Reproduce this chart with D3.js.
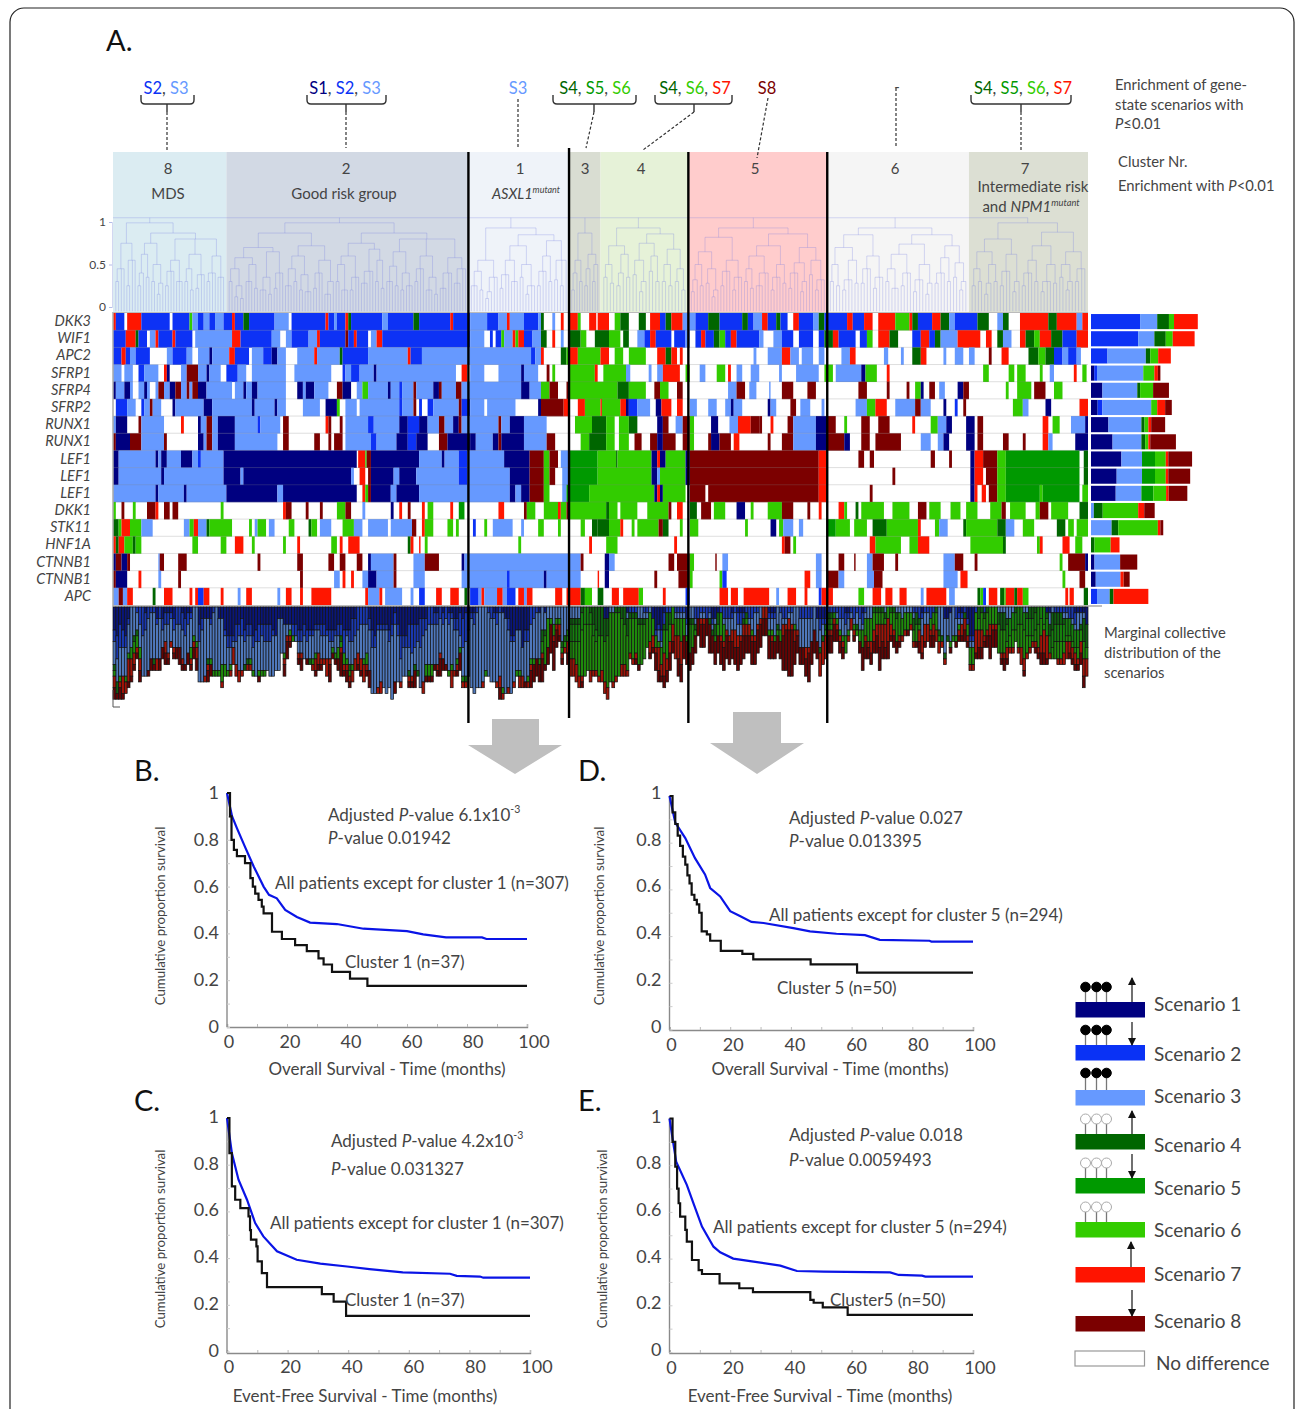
<!DOCTYPE html>
<html>
<head>
<meta charset="utf-8">
<script src="https://cdn.jsdelivr.net/npm/d3@7"></script>
<style>
  html, body { margin: 0; padding: 0; background: #fff; }
  svg { display: block; }
  text { font-family: Lato, "Open Sans", sans-serif; fill: #444; }
</style>
</head>
<body>
<svg id="chart" width="1295" height="1409"></svg>
<script>
// ---- data ----
const scenarioNames = ["Scenario 1", "Scenario 2", "Scenario 3", "Scenario 4", "Scenario 5", "Scenario 6", "Scenario 7", "Scenario 8"]
const scenarioColors = ["#000080", "#0a32f5", "#6699ff", "#006600", "#009900", "#33cc00", "#ff1400", "#7b0000"]
const marginalColors = ["#0a1678", "#1a38b0", "#4f78bc", "#0f5f10", "#16800f", "#1f8a0c", "#a01408", "#620404"]

const genes = ["DKK3", "WIF1", "APC2", "SFRP1", "SFRP4", "SFRP2", "RUNX1", "RUNX1", "LEF1", "LEF1", "LEF1", "DKK1", "STK11", "HNF1A", "CTNNB1", "CTNNB1", "APC"]

// cluster order left to right, and the patient index where each one ends
const clusterNames = ["8", "2", "1", "3", "4", "5", "6", "7"]
const clusterEnds = [40, 125.4, 160.9, 172, 203, 252, 302, 344]
const clusterFills = ["#dbecf2", "#d2d9e4", "#eff3f9", "#d9ddd2", "#e6f2d8", "#ffcccc", "#f5f5f5", "#dcdfd3"]
const blackLineAfter = [1, 2, 4, 5]

// one string per gene row: scenario:endPatient runs, 0 = no difference
const heatRuns = [
  "7:1 2:4 0:5 7:10 2:20 0:21 2:27 6:28 3:30 2:32 3:34 2:36 3:39 2:42 7:43 2:46 4:48 2:57 3:62 0:63 2:75 7:76 2:78 3:79 2:82 7:83 4:84 2:95 3:97 2:106 4:108 2:119 7:120 2:126 3:132 2:136 3:139 7:140 3:145 2:150 3:151 4:152 0:155 3:156 0:158 7:159 0:161 7:164 6:165 0:168 7:170.5 0:171 7:175 0:177 6:179 4:182 0:185.5 4:188 0:189.5 7:193 2:195 4:197 7:201 3:205.5 2:210 4:214 2:222 4:224 2:226 3:229 7:231 2:234 4:235.5 2:238 0:240 7:242 2:247 3:249 4:251 2:259 7:261 2:265 7:268 0:270 7:276 6:281 7:282 4:284 2:289 7:292 4:295 3:297 2:305 4:309 0:312 3:314 4:316 0:320 7:330 4:333 7:340 3:342 7:344",
  "2:4.5 7:8 4:9 2:12 0:13 3:15 7:16 2:21 7:22 2:28 0:29 3:42 7:45 2:56 3:59 0:61 3:63 2:69 3:72 7:73 2:82 8:83 2:85 7:86 2:90 0:91 3:93 7:95 2:126 3:131 0:133 2:134 0:135 2:137 6:138 3:141 7:142 6:143 7:145 2:148 3:151 4:153 0:155 7:156 0:158 3:159 0:161 4:165 6:167 0:170 4:175 6:179 0:180 4:182 0:185 3:187.5 2:189.5 7:191.5 2:197 0:198 2:202 3:203.5 0:205.5 2:207.5 7:209 2:212 4:214 6:216 2:218 7:220 2:228 3:229.5 0:233 3:236 2:240 0:242 2:247 0:249 2:251 4:254 7:256 2:262 0:263.5 2:266 6:268 0:270 7:274 4:277 0:282 2:285 7:288 2:290 4:292 3:298 7:306 0:308 7:310 0:312 4:314 3:317 0:320 7:322 4:325 6:327 7:331 4:335 2:340 7:344",
  "2:3 7:4.5 2:6 3:8 2:13 0:19 3:21 2:26 3:28 0:30 3:34 1:35 3:41 7:43 2:48 0:49 3:53 2:56 1:58 3:61 0:65 3:71 7:72 3:80 4:81 2:90 3:104 7:105 2:109 3:147.5 2:149 3:151 7:152 0:158 4:160 6:161 7:164 6:172 7:175 0:177 6:180 0:182 6:188 0:192 7:195 4:197 7:199 0:200 7:201 0:203.5 0:226 3:227 0:231 3:236 7:239 3:242 0:243 3:247 0:249 3:251 0:257 3:260 7:262 0:272 3:273.5 0:278 3:279 0:282 4:285 7:287 0:293 3:294 0:297 3:300 0:302 3:304 0:309 8:310 0:313.5 7:316 0:323 4:326.5 6:329 4:332 2:335 3:337 2:340 3:341.5 0:344",
  "3:3 0:4 3:7 0:9 2:11 3:16 0:18 7:19 1:20 0:24 3:26 8:30 3:33 1:34 3:38 0:40 2:44 3:47 0:49 3:61 0:64 3:77 0:81 2:82 3:84 2:87 3:92 1:93 3:121 0:123 7:125 0:126 3:131 0:136 3:144 1:145 3:150 0:153 8:154 0:155 6:156 0:161 6:170 7:171 0:173 6:181 3:182.5 0:189 3:190 0:192 3:194 7:200 0:202 6:203.5 0:207 3:209 0:213 6:216 0:217 7:218 0:220 3:222 0:225 3:228 0:235 3:236 0:241 3:249 0:251 6:254 0:255 3:264 1:265.5 6:269.5 0:273 7:274 0:307 6:309 0:316 6:318 0:319 6:322 0:327 6:328 0:330.5 3:332 0:339 7:340 0:342 6:343.5 0:344",
  "1:1 3:4 1:6 3:7 0:9 3:11 1:12 3:13 0:15 3:16 8:18 3:20 1:22 8:24 3:26 8:27 3:28 8:30 1:33 3:42 0:43 3:46 1:47 3:49 1:51 3:61 0:65 1:67 3:68 1:71 3:76 0:79 8:81 1:84 0:86 3:88 6:90 3:97 1:98 3:101 2:102 3:106 8:107 3:113 1:115 8:116 3:121 8:123 3:144 1:147 3:151 6:154 8:157 0:160 8:161 6:178 4:182 6:188 0:191 8:193 6:196 0:199 8:201 0:217 3:220 8:223 0:224.5 3:227 0:231.5 3:232 0:236 8:240 0:245 8:248 0:263 8:266 0:273 8:274 0:280 8:281 0:283 6:285 1:286 0:288 8:290 0:291.5 3:293.5 0:298 1:300 8:302 0:315 6:316 0:319 6:324 0:325 8:329 0:332 6:335 0:344",
  "0:1 2:5 3:8 0:10 2:11 3:13 8:14 3:17 0:21 1:22 3:32 1:35 3:49 1:50 3:57 1:58 3:61 0:67 3:73 0:75 1:79 6:80 0:82 3:86 0:87 3:101 2:102 3:106 8:107 0:108 2:109 0:111 2:113 3:122 8:123 2:126 3:131 0:132 3:142 0:150 1:151 8:159 7:161 0:164 7:166.5 6:172 7:172.5 6:179 7:181 1:182 2:185 3:189.5 0:191.5 1:193.5 7:197 0:199 7:201 0:203.5 3:206 0:210 3:213 0:216 3:218 1:219 3:222 0:231 1:232 3:234 0:239 8:241 0:242.5 3:246 0:250 3:251 0:262 3:266 6:269 7:273 0:276 3:283 8:285 3:288.5 0:293 1:294 0:297 2:298 0:300 8:301 0:317.5 6:321 3:323 0:329 1:331 0:341 7:344",
  "3:1 1:5 0:9 8:10 3:18 0:24 7:25 0:30 1:31 3:33 8:35 3:37 1:43 3:51 2:52 3:59 0:60 8:62 0:75 7:76 8:77 0:80 8:81 0:82 3:90 2:92 3:101 1:104 2:108 1:111 3:115 8:117 3:120 1:122 8:123 3:136 8:137 3:140 1:145 3:153 0:161 0:163 6:169 4:174 6:177 0:178.5 6:182 4:185 0:192 1:194 8:196 0:198.5 3:201 8:203.5 6:205 0:211 1:213.5 0:217.5 3:220.5 7:225 8:228 8:229 0:232 7:233 0:238 8:240 3:248 1:252 8:255 0:258 6:259 0:264 8:267 0:270 8:274 0:282 7:283 0:288.5 6:291 3:294 1:296 0:301 1:304 0:305 8:307 0:328 7:330 0:331.5 6:334 0:338 3:343 1:344",
  "8:1 1:6 8:10 3:18 8:19 0:30 1:32 3:33 8:35 3:37 1:43 3:58 0:60 8:62 0:71 8:73 0:76 8:77 0:78 8:81 0:82 3:91 2:93 3:100 1:104 2:107 1:111 0:115 8:118 1:126 1:128 3:134 1:136 8:137 1:145 3:153 8:156 0:161 0:165 6:168 4:174 6:177 0:178.5 6:182 0:184 8:186.5 0:189.5 8:192 1:194 8:198.5 0:201 8:203.5 6:205 0:210 8:211 1:214 8:218 0:219 7:221 0:231 8:232 0:236 8:240 3:248 1:252 8:258 1:260 0:264 8:267 0:269 8:278 0:285 3:288.5 0:291 3:293 1:295 0:301 1:304 0:305 8:307 0:314 8:316 0:321 8:322 0:328 7:330 3:331.5 0:339.5 1:344",
  "1:2 3:15 1:16 3:17 1:19 3:24 1:28 3:30 2:31 3:39 1:86 0:86.5 7:89 6:89.5 8:91 1:108 3:116 1:117 3:122 2:125 3:138 1:147 8:152 6:154 8:157 0:158 3:161 5:171 6:177.5 4:178 6:190 1:192 7:193 1:195 6:202 1:203.5 8:249 7:252 0:263 8:265 0:267 8:268.5 0:288.5 8:290 0:295 8:296 0:302.5 1:304 7:307 8:312 6:315 5:341 0:342.5 4:344",
  "1:2 3:17 1:18 3:39 1:45 3:46 1:84 3:85 0:87 7:89 0:90 8:91 1:99 3:101 1:107 3:122 2:125 3:140 1:147 8:152 6:154 8:156 0:158.5 3:161 5:171 6:190 1:192 3:193 6:202 1:203.5 8:249 7:252 0:275 8:276 0:302.5 1:304 7:307 0:308 8:312 6:315 5:341 0:342.5 4:344",
  "3:15 1:16 3:25 1:26 3:40 1:58 3:60 1:86 0:88 7:89 6:90 8:91 1:98 3:100 1:108 3:140 1:142 3:144 1:147 8:152 6:154 0:158.5 3:160 5:168 6:191 1:192 7:193 1:194 6:202 0:203.5 8:209 0:210 8:249 7:252 0:267 8:268 0:302.5 1:304 7:305 0:306.5 7:308 0:309 8:312 6:315 5:327 6:328 5:341 0:342 6:344",
  "6:1 0:3 8:4 0:7 6:8 0:12 8:15 7:16 0:18 8:20 0:21 8:23 0:38 6:39 0:60 7:61 8:63 0:68 8:69 0:73 8:74 0:79 6:82 8:84 0:88 3:89 0:98 1:99 0:101 7:102 0:104 8:105 0:109 7:110 0:111 6:113 0:119 7:120 0:122 5:124 0:136 7:138 0:145 8:146 6:149 0:152 6:157 7:158 6:160 8:161 6:174 4:175 6:178 0:179 6:185 0:188.5 6:196 8:197 0:199 7:201 0:203.5 4:206 0:207.5 8:211 0:212 6:216 0:220 1:223 0:225 6:226 0:231 6:236 8:240 0:245 8:246 0:249 7:250 0:256 7:258 6:259 0:262 4:263 0:264 6:272 0:275 6:281 0:284 8:287 0:288 6:292 0:295.5 6:299 0:301 6:305 0:309.5 6:313.5 8:315 0:316.5 6:322 0:325.5 6:327 8:330 0:331 6:337 0:341 4:344",
  "4:2 6:3 7:6 6:10 3:14 0:25 3:27 6:28.5 7:30 3:33 4:34 6:42 0:48 6:49 0:50 3:51 6:54 0:55 3:57 0:62 6:64 0:69 4:70 6:72 0:73 3:77 0:81 6:85 3:88 0:90 3:97 0:98 3:105.5 8:107 0:109 7:110 6:113 0:118 6:120 0:121 6:122 0:127 2:128 0:131 6:132 0:134 3:141 0:144 3:145 0:150 6:152 0:157 6:158 0:165 6:166.5 0:169 4:171 4:175 6:179 7:180 0:183 6:184 0:185 6:192.5 8:194 4:196 0:200 6:201 0:203.5 6:206.5 0:223 6:224 0:232 1:234 0:235 6:236.5 3:240 0:242 3:243.5 0:252 5:255 6:260 0:261.5 6:266 0:268 4:273 6:284 7:285 0:290 6:291.5 3:294.5 0:300 4:301 6:312 4:315 3:318 0:321 6:325 0:333 4:336 0:337 6:339 0:340 6:344",
  "7:1 4:2 7:4 6:7 4:8 6:10 0:28 6:30 0:38 6:40 0:43 7:46 0:49 6:50 0:60 6:61 0:65 7:66 0:77 6:79 0:80 7:81 0:83 7:87 0:104 4:105 7:106 0:108 7:108.5 0:110 6:111 0:143 6:144 0:168 7:169 0:174 6:178 0:198 7:199 0:236 7:237 8:239 0:240 6:241 0:267 7:269 6:278 0:281 6:284 7:288 0:302.5 6:314 4:315 0:326 6:327 7:328 0:335 7:337.5 0:339.5 6:342 0:344",
  "1:1 8:3 1:5 8:6 0:16 3:16.5 8:18 0:23 8:26 0:51 8:52 0:65 8:67 0:76 8:78 0:80 8:82 0:86 8:88 0:90 1:91 3:99 8:100 0:106 3:110 8:115 0:123 1:124 3:165 8:166 0:173.5 1:175 3:177 0:196 8:198 0:199 8:203.5 6:205 0:212.5 8:213 0:215 3:217 0:248 3:250 0:256 8:258 0:261.5 8:262 0:266 3:268 8:272 0:276 8:277 0:293 3:297 8:300 0:304 8:305 0:334 6:335 0:337 8:343 1:344",
  "8:1 1:5 0:9 7:10 0:16 3:17 0:23 8:24 0:66 8:67 0:78 3:80 0:81 7:82 0:84 7:85 0:88 3:90 1:93 3:99 8:100 0:106 3:110 0:123 3:139 2:140 3:152 1:153 3:165 0:171 7:171.5 0:173.5 1:175 0:191 8:192 0:199.5 8:203.5 6:204.5 0:214 6:215 2:216.5 0:244 7:246 0:248 3:250 0:252 8:256 3:258 0:266 3:268.5 8:271.5 0:293 3:298 0:299 7:301.5 0:335 6:336 0:341 8:343 0:344",
  "3:2 8:3.5 3:5 7:7 0:14 4:15 0:18 7:21 0:27 7:28 0:29 7:30 2:32 7:34 0:38 7:39 0:44 3:45 0:47 7:49 0:58 3:59 0:61 7:63 0:66 7:67 0:70 7:77 0:89 7:90 3:94 7:95 0:96 3:102 0:105 3:106 0:108 2:110 0:114 7:116 0:119 7:122 0:124 4:125 0:126 2:129 3:130 7:131 3:135.5 7:137.5 3:139 2:142 0:143 7:145 3:146 7:148 0:156 7:158.5 0:160 7:165 4:166.5 6:169 0:171 4:173 0:176 7:178.5 0:180 7:185.5 6:187 0:194 7:195 0:202 2:203.5 0:214 7:217 0:218 7:220.5 0:222.5 7:231.5 0:234 3:235 0:238 7:241 0:244 7:245 0:249 2:250 7:254 0:263 6:265 0:268 7:271 0:272.5 7:275 0:277.5 7:280 0:285 3:286 0:287 7:294 0:295 3:297 0:305 4:306 6:307 2:308 0:309 7:312 0:313 4:314.5 6:315 7:318 4:319 7:321 6:323 0:336 7:337 0:337.5 7:339 0:342.5 4:344"
]

// right-hand bars, estimated patient counts per scenario (S1..S8) for each gene row
const sideCounts = [
  [0, 155, 54, 37, 0, 16, 75, 0],
  [0, 149, 51, 36, 0, 22, 69, 0],
  [0, 52, 121, 14, 0, 25, 40, 0],
  [10, 9, 146, 0, 0, 35, 11, 8],
  [36, 0, 110, 9, 0, 41, 0, 50],
  [21, 15, 154, 0, 0, 19, 25, 21],
  [55, 0, 104, 10, 0, 12, 9, 44],
  [68, 0, 91, 12, 0, 10, 6, 81],
  [96, 0, 65, 0, 41, 34, 8, 75],
  [81, 0, 80, 0, 41, 34, 8, 69],
  [78, 0, 81, 0, 38, 40, 8, 59],
  [0, 0, 9, 28, 0, 112, 19, 33],
  [0, 0, 65, 21, 0, 125, 8, 9],
  [0, 0, 0, 11, 0, 51, 28, 0],
  [11, 0, 81, 0, 0, 0, 0, 54],
  [15, 0, 78, 0, 0, 0, 10, 19],
  [0, 19, 40, 12, 0, 0, 110, 0]
]

// dendrogram per cluster: [mergeHeight, ...children], a bare number = that many leaves
const tree8 = [.99, [.75, [.45, [.3, 2], 2], [.55, [.25, 2], 2]], [.87, [.75, [.62, [.4, [.25, 2], 1], [.35, 2]], [.5, [.3, 2], [.28, [.15, 2], 1]]], [.8, [.55, [.42, [.25, 2], 2], [.3, 3]], [.62, [.45, [.3, 2], [.2, 2]], [.38, [.22, 2], 2]], [.6, [.4, [.3, 2], 2], [.35, 3]]]]]
const tree2 = [.99, [.87, [.7, [.58, [.45, [.3, 2], [.25, [.12, 2], [.1, 2]]], [.5, [.3, 3], [.22, 2]]], [.65, [.35, [.2, 3], [.15, 2]], [.4, [.22, 2], 2]]], [.72, [.6, [.45, [.25, 3], [.3, 2]], [.38, [.2, 2], [.18, 3]]], [.55, [.4, [.22, 2], 2], [.3, [.15, 3], 1]]]], [.87, [.75, [.6, [.5, [.3, 2], [.2, 3]], [.35, [.2, 2], 2]], [.68, [.42, [.28, 3], 2], [.55, [.3, 2], [.22, 2]]]], [.8, [.65, [.48, [.3, 3], [.25, 2]], [.4, [.2, 2], [.25, 3]]], [.6, [.45, [.3, 2], 2], [.35, [.2, 3], [.15, 2]]], [.58, [.4, [.22, 3], 2], [.45, [.28, 3], 2]]]]]
const tree1 = [.93, [.55, [.42, [.25, 3], [.2, 2]], [.35, [.18, [.1, 2], 1], 2]], [.85, [.72, [.55, [.38, [.22, 2], 2], [.3, 3]], [.5, [.35, 2], [.25, [.15, 2], 2]]], [.78, [.6, [.42, [.25, 2], 2], [.3, 2]], [.55, [.32, 2], [.25, 2], 1]]]]
const tree3 = [.87, [.55, [.4, [.2, 2], 1], [.3, 2]], [.62, [.45, [.25, 2], 1], [.5, [.3, 2], 1]]]
const tree4 = [.93, [.72, [.5, [.35, 2], [.28, 2]], [.62, [.4, [.25, 2], 1], [.35, 2]]], [.86, [.75, [.55, [.38, 2], [.3, [.18, 2], 1]], [.6, [.42, 2], [.3, 2]]], [.68, [.5, [.3, 2], [.25, 2]], [.45, [.3, 2], [.2, 2]]]]]
const tree5 = [.93, [.82, [.65, [.5, [.32, [.18, 2], 1], [.25, 2]], [.45, [.28, 2], [.2, [.12, 2], 1]]], [.55, [.42, [.25, 2], 2], [.35, [.2, 2], 2]]], [.86, [.72, [.6, [.45, [.3, 2], [.22, 2]], [.4, [.25, 3], 2]], [.5, [.35, [.2, 2], 2], [.28, 2]]], [.7, [.52, [.4, [.22, 2], 2], [.3, [.18, 2], 1]], [.55, [.38, 2], [.32, [.2, 2], 2]]]]]
const tree6 = [.93, [.85, [.7, [.5, [.3, 2], [.25, 2]], [.55, [.32, [.2, 2], 2], [.28, 2]]], [.6, [.45, [.28, 2], 2], [.35, [.22, 2], 2]]], [.85, [.74, [.62, [.45, [.3, 2], [.22, 3]], [.4, [.25, 2], 2]], [.5, [.32, [.18, 2], 2], [.28, [.15, 2], 1]]], [.72, [.58, [.4, [.28, 2], 2], [.3, 2]], [.52, [.35, 2], [.3, [.2, 2], 1]]]]]
const tree7 = [.99, [.8, [.65, [.45, [.25, 2], [.3, 2]], [.5, [.28, [.15, 2], 1], [.3, 2]]], [.62, [.42, [.25, 2], 2], [.3, [.18, 2], 1]]], [.88, [.72, [.55, [.4, [.25, 2], 2], [.3, 2]], [.5, [.3, [.18, 2], 2], [.28, 2]]], [.65, [.5, [.35, 2], [.3, [.2, 2], 1]], [.45, [.3, 2], 2]]]]
const clusterTrees = [tree8, tree2, tree1, tree3, tree4, tree5, tree6, tree7]

// survival curves as [months, proportion]
const blueB = [[0,1],[1.7,.9],[3.3,.85],[6,.77],[8.9,.686],[12.2,.6],[14,.565],[16.6,.55],[19.4,.5],[23.3,.47],[27.7,.446],[36.6,.44],[45.5,.42],[60,.41],[65.4,.396],[73,.383],[85,.383],[86.5,.376],[100,.376]]
const blackB = [[0,1],[1,.9],[1.5,.8],[2.3,.757],[3.3,.73],[6,.7],[7.8,.636],[8.6,.6],[9.4,.57],[10.5,.543],[11.6,.514],[12.2,.486],[15,.407],[18.3,.376],[22.7,.35],[26.6,.324],[30.5,.293],[32.2,.267],[35,.236],[41,.207],[46.8,.176],[100,.176]]
const blueC = [[0,1],[1.6,.85],[3.8,.736],[6.6,.65],[9.3,.55],[12,.493],[16.5,.429],[23,.393],[30.8,.376],[39.6,.364],[47,.353],[58,.339],[73.6,.333],[75.8,.324],[83.5,.321],[84.6,.316],[100,.316]]
const blackC = [[0,1],[.8,.85],[1.6,.707],[2.7,.65],[4.4,.614],[7.1,.579],[7.6,.52],[7.9,.479],[9.7,.45],[10.1,.386],[11.5,.336],[13.2,.276],[31.3,.246],[35.2,.214],[39.3,.153],[100,.153]]
const blueD = [[0,1],[1.9,.886],[5.2,.82],[8.4,.734],[11.7,.664],[13.4,.606],[16.7,.57],[20,.507],[23.2,.486],[27,.461],[31,.456],[40.8,.434],[46.3,.42],[55,.41],[64.4,.404],[69.3,.384],[85.7,.38],[86.3,.376],[100,.376]]
const blackD = [[0,1],[1,.93],[1.9,.88],[2.7,.83],[3.5,.786],[4.4,.74],[5.2,.706],[5.9,.66],[6.6,.626],[7.3,.577],[8.2,.555],[9,.536],[9.8,.5],[10.6,.42],[12.3,.407],[13.4,.38],[16.9,.337],[24,.324],[27.6,.3],[46.5,.279],[61.8,.244],[100,.244]]
const blueE = [[0,1],[2.2,.815],[5.7,.716],[7.9,.637],[10.7,.537],[14.5,.451],[16.7,.427],[21,.4],[27.7,.387],[36.5,.37],[42,.347],[50.8,.344],[72.7,.341],[75.5,.33],[83.2,.327],[84.3,.323],[100,.323]]
const blackE = [[0,1],[1,.9],[1.9,.794],[2.5,.7],[3,.637],[3.5,.58],[5.2,.523],[5.7,.473],[7.4,.394],[9.6,.351],[10.7,.334],[16.5,.294],[23,.273],[27.5,.256],[46.4,.223],[47.5,.211],[50.5,.191],[58.7,.159],[100,.159]]

const xTickLabels = [0, 20, 40, 60, 80, 100]
const yTickLabels = [0, .2, .4, .6, .8, 1]

// ---- helpers ----
const svg = d3.select("#chart")

// parts: plain string, or {t, fill, italic, sup, underline}
function label(parent, x, y, parts, size, opts) {
  opts = opts || {}
  const el = parent.append("text")
    .attr("x", x).attr("y", y)
    .attr("font-size", size)
    .attr("dominant-baseline", "central")
    .attr("text-anchor", opts.anchor || "start")
  if (opts.fill) el.style("fill", opts.fill)
  if (opts.italic) el.attr("font-style", "italic")
  if (opts.transform) el.attr("transform", opts.transform)
  ;[].concat(parts).forEach(p => {
    if (typeof p === "string") p = { t: p }
    const span = el.append("tspan").text(p.t)
    if (p.fill) span.style("fill", p.fill)
    if (p.italic) span.attr("font-style", "italic")
    if (p.underline) span.attr("text-decoration", "underline")
    if (p.sup) span.attr("dy", -size * .3).attr("font-size", size * .62)
  })
  return el
}

const defs = svg.append("defs")
defs.append("filter").attr("id", "soft").attr("x", "-2%").attr("y", "-2%").attr("width", "104%").attr("height", "104%")
  .append("feGaussianBlur").attr("stdDeviation", .6)

// frame round the whole figure
svg.append("rect").attr("x", 10).attr("y", 8).attr("width", 1284).attr("height", 1460).attr("rx", 14)
  .attr("fill", "#fff").attr("stroke", "#222").attr("stroke-width", 1.2)

label(svg, 106, 39, "A.", 29, { fill: "#111" })

// ---- heat map, dendrogram, marginals ----
const patientX = d3.scaleLinear().domain([0, 344]).range([113, 1088])
const rowY = d3.scaleBand().domain(d3.range(genes.length)).range([313, 605])

const heatMatrix = heatRuns.map(str => {
  let start = 0
  return str.split(" ").map(tok => {
    const [code, end] = tok.split(":").map(Number)
    const run = { code, start, end }
    start = end
    return run
  })
})

// cluster backgrounds
const clusterStarts = [0].concat(clusterEnds.slice(0, -1))
svg.append("g").selectAll("rect").data(clusterNames).join("rect")
  .attr("x", (d, i) => patientX(clusterStarts[i]))
  .attr("width", (d, i) => patientX(clusterEnds[i]) - patientX(clusterStarts[i]))
  .attr("y", 152).attr("height", 161)
  .attr("fill", (d, i) => clusterFills[i])

// cluster numbers and enrichment notes
const clusterNumberX = [168, 346, 520, 585, 641, 755, 895, 1025]
clusterNames.forEach((c, i) => label(svg, clusterNumberX[i], 168, c, 15, { anchor: "middle" }))
label(svg, 168, 193, "MDS", 15, { anchor: "middle" })
label(svg, 344, 193, "Good risk group", 15, { anchor: "middle" })
label(svg, 526, 193, [{ t: "ASXL1", italic: true }, { t: "mutant", italic: true, sup: true }], 14.5, { anchor: "middle" })
label(svg, 1033, 186, "Intermediate risk", 15, { anchor: "middle" })
label(svg, 1031, 206, ["and ", { t: "NPM1", italic: true }, { t: "mutant", italic: true, sup: true }], 15, { anchor: "middle" })

// dendrogram
const dendY = d3.scaleLinear().domain([0, 1]).range([307, 222])
const dendLines = svg.append("g").attr("fill", "none").attr("stroke", "#7078e0").attr("stroke-opacity", .27).attr("stroke-width", 1)
function toNode(a) {
  return {
    h: a[0],
    children: a.slice(1).flatMap(c => typeof c === "number" ? d3.range(c).map(() => ({ h: -.05 })) : [toNode(c)])
  }
}
const rootCenters = []
clusterTrees.forEach((tree, i) => {
  const root = d3.hierarchy(toNode(tree))
  const n = root.leaves().length
  const span = clusterEnds[i] - clusterStarts[i]
  d3.cluster().separation(() => 1).size([span * (n - 1) / n, 1])(root)
  const px = d => patientX(clusterStarts[i] + span / n / 2 + d.x)
  rootCenters.push(px(root))
  dendLines.append("path").attr("d", `M${px(root)},${dendY(1.05)}V${dendY(root.data.h)}`)
  root.descendants().filter(d => d.children).forEach(d => {
    const kids = d.children
    dendLines.append("path").attr("d",
      `M${px(kids[0])},${dendY(d.data.h)}H${px(kids[kids.length - 1])}` +
      kids.map(k => `M${px(k)},${dendY(d.data.h)}V${dendY(k.data.h)}`).join(""))
  })
})
dendLines.append("path").attr("d", `M${patientX(0)},${dendY(1.05)}H${rootCenters[rootCenters.length - 1]}`)

// dendrogram axis
const dendAxis = svg.append("g").attr("transform", "translate(112,0)")
  .call(d3.axisLeft(dendY).tickValues([0, .5, 1]).tickSize(3).tickFormat(d3.format("")))
dendAxis.select(".domain").attr("stroke", "#b4bce8").attr("stroke-width", .6)
dendAxis.selectAll("line").attr("stroke", "#b4bce8")
dendAxis.selectAll("text").attr("font-size", 12).attr("font-family", "Lato").style("fill", "#444").attr("x", -6)

// heat cells
const heat = svg.append("g").attr("filter", "url(#soft)")
heat.append("rect").attr("x", 113).attr("y", 313).attr("width", 975).attr("height", 292).attr("fill", "#fff")
heatMatrix.forEach((runs, r) => {
  heat.append("g").selectAll("rect").data(runs.filter(d => d.code > 0 && d.end > d.start)).join("rect")
    .attr("x", d => patientX(d.start))
    .attr("width", d => patientX(d.end) - patientX(d.start))
    .attr("y", rowY(r))
    .attr("height", rowY.bandwidth() + .3)
    .attr("fill", d => scenarioColors[d.code - 1])
})
// thin grey row separators and frame
svg.append("g").selectAll("line").data(d3.range(1, genes.length)).join("line")
  .attr("x1", 113).attr("x2", 1088)
  .attr("y1", d => rowY(d)).attr("y2", d => rowY(d))
  .attr("stroke", "#808080").attr("stroke-opacity", .25)
svg.append("path").attr("d", "M113,312V606H1102").attr("fill", "none").attr("stroke", "#aaa").attr("stroke-width", 1.5)
svg.append("line").attr("x1", 113).attr("x2", 1088).attr("y1", 312.5).attr("y2", 312.5).attr("stroke", "#bbb")

// gene names
genes.forEach((g, i) => label(svg, 91, rowY(i) + rowY.bandwidth() / 2 - 1.5, g, 14.5, { anchor: "end", italic: true }))

// right hand stacked bars
const sideKeys = d3.range(8)
const sideX = d3.scaleLinear().domain([0, 344]).range([1091, 1200])
const sideBandY = d3.scaleBand().domain(d3.range(genes.length)).range([313, 605]).paddingInner(.12).paddingOuter(.06)
const sideStack = d3.stack().keys(sideKeys).value((row, k) => row[k])(sideCounts)
svg.append("g").attr("filter", "url(#soft)").selectAll("g").data(sideStack).join("g")
  .attr("fill", d => scenarioColors[d.key])
  .selectAll("rect").data(d => d).join("rect")
  .attr("x", d => sideX(d[0]))
  .attr("width", d => sideX(d[1]) - sideX(d[0]))
  .attr("y", (d, i) => sideBandY(i))
  .attr("height", sideBandY.bandwidth())

// marginal distribution under the heat map, counted from the heat rows
const patients = d3.range(344)
const marginal = patients.map(p => {
  const c = {}
  sideKeys.forEach(k => { c[k] = 0 })
  heatMatrix.forEach(runs => {
    const hit = runs.find(d => p + .5 >= d.start && p + .5 < d.end)
    if (hit && hit.code > 0) c[hit.code - 1]++
  })
  return c
})
const marginalY = d3.scaleLinear().domain([0, 17]).range([607, 705])
const marginalX = d3.scaleBand().domain(patients).range([113, 1088])
const marginalStack = d3.stack().keys(sideKeys)(marginal)
svg.append("g").attr("stroke", "#111").attr("stroke-width", .7).selectAll("g").data(marginalStack).join("g")
  .attr("fill", d => marginalColors[d.key])
  .selectAll("rect").data(d => d).join("rect")
  .attr("x", (d, i) => marginalX(i))
  .attr("width", marginalX.bandwidth())
  .attr("y", d => marginalY(d[0]))
  .attr("height", d => marginalY(d[1]) - marginalY(d[0]))
svg.append("path").attr("d", "M113,690V707H120").attr("fill", "none").attr("stroke", "#555")

// heavy separators between cluster groups
const lineTops = [152, 148, 152, 152]
const lineBottoms = [723, 718, 723, 723]
svg.append("g").selectAll("line").data(blackLineAfter).join("line")
  .attr("x1", d => patientX(clusterEnds[d])).attr("x2", d => patientX(clusterEnds[d]))
  .attr("y1", (d, i) => lineTops[i]).attr("y2", (d, i) => lineBottoms[i])
  .attr("stroke", "#000").attr("stroke-width", 2.4)

// ---- enrichment headings and brackets ----
const sCol = d => scenarioColors[+d[1] - 1]
const headings = [
  { x: 166, items: ["S2", "S3"] }, { x: 345, items: ["S1", "S2", "S3"] }, { x: 518, items: ["S3"] },
  { x: 595, items: ["S4", "S5", "S6"] }, { x: 695, items: ["S4", "S6", "S7"] }, { x: 767, items: ["S8"] },
  { x: 1023, items: ["S4", "S5", "S6", "S7"] }
]
headings.forEach(h => {
  const parts = []
  h.items.forEach((s, i) => {
    parts.push({ t: s, fill: sCol(s) })
    if (i < h.items.length - 1) parts.push({ t: ", " })
  })
  label(svg, h.x, 88, parts, 16.5, { anchor: "middle" })
})
label(svg, 897, 86, "-", 15, { anchor: "middle" })

const brackets = [[141, 194, 167], [307, 386, 346], [553, 636, 594], [655, 732, 694], [971, 1071, 1021]]
svg.append("g").selectAll("path").data(brackets).join("path")
  .attr("d", ([a, b, c]) => `M${a},95V100Q${a},104 ${a + 4},104H${b - 4}Q${b},104 ${b},100V95M${c},104V112`)
  .attr("fill", "none").attr("stroke", "#333").attr("stroke-width", 1.4)
const dashes = [[167, 112, 167, 150], [346, 112, 346, 148], [518, 99, 518, 149], [594, 112, 586, 148], [694, 112, 643, 150], [768, 98, 757, 158], [896, 88, 896, 147], [1021, 112, 1021, 152]]
svg.append("g").selectAll("line").data(dashes).join("line")
  .attr("x1", d => d[0]).attr("y1", d => d[1]).attr("x2", d => d[2]).attr("y2", d => d[3])
  .attr("stroke", "#333").attr("stroke-width", 1.2).attr("stroke-dasharray", "3,2")

// side notes
label(svg, 1115, 84, "Enrichment of gene-", 14.8)
label(svg, 1115, 104, "state scenarios with", 14.8)
label(svg, 1115, 123, [{ t: "P", italic: true }, { t: "≤" }, { t: "0.01" }], 14.8)
label(svg, 1118, 161, "Cluster Nr.", 14.8)
label(svg, 1118, 185, ["Enrichment with ", { t: "P", italic: true }, "<0.01"], 14.8)
label(svg, 1104, 632, "Marginal collective", 14.8)
label(svg, 1104, 652, "distribution of the", 14.8)
label(svg, 1104, 672, "scenarios", 14.8)

// big grey arrows
const arrows = [[492, 539, 719, 745, 468, 562, 515], [733, 781, 712, 743, 710, 804, 757]]
svg.append("g").selectAll("path").data(arrows).join("path")
  .attr("d", ([l, r, t, m, a, b, tip]) => `M${l},${t}H${r}V${m}H${b}L${tip},774L${a},${m}H${l}Z`)
  .attr("fill", "#bfbfbf")

// ---- survival panels ----
const panels = [
  {
    letter: "B.", letterX: 134, letterY: 769, x0: 227, x1: 527, y0: 1027, y1: 793, axisY: 1027, yLabelDy: -1,
    blue: blueB, black: blackB, tickY: 1041, titleX: 387, titleY: 1068, yTitleX: 160, yTitleC: 916,
    title: "Overall Survival - Time (months)",
    notes: [
      [328, 814, ["Adjusted ", { t: "P", italic: true }, "-value 6.1x10", { t: "-3", sup: true }]],
      [328, 837, [{ t: "P", italic: true }, "-value 0.01942"]],
      [275, 882, ["All patients except for cluster 1 (n=307)"]],
      [345, 961, ["Cluster 1 (n=37)"]]
    ]
  },
  {
    letter: "D.", letterX: 578, letterY: 769, x0: 669.5, x1: 973, y0: 1029.5, y1: 796, axisY: 1030, yLabelDy: -4,
    blue: blueD, black: blackD, tickY: 1044, titleX: 830, titleY: 1068, yTitleX: 599, yTitleC: 916,
    title: "Overall Survival - Time (months)",
    notes: [
      [789, 817, ["Adjusted ", { t: "P", italic: true }, "-value 0.027"]],
      [789, 840, [{ t: "P", italic: true }, "-value 0.013395"]],
      [769, 914, ["All patients except for cluster 5 (n=294)"]],
      [777, 987, ["Cluster 5 (n=50)"]]
    ]
  },
  {
    letter: "C.", letterX: 134, letterY: 1099, x0: 227, x1: 530, y0: 1351.5, y1: 1118, axisY: 1353, yLabelDy: -2,
    blue: blueC, black: blackC, tickY: 1366, titleX: 365, titleY: 1395, yTitleX: 160, yTitleC: 1239,
    title: "Event-Free Survival - Time (months)",
    notes: [
      [331, 1140, ["Adjusted ", { t: "P", italic: true }, "-value 4.2x10", { t: "-3", sup: true }]],
      [331, 1168, [{ t: "P", italic: true }, "-value 0.031327"]],
      [270, 1222, ["All patients except for cluster 1 (n=307)"]],
      [345, 1299, ["Cluster 1 (n=37)"]]
    ]
  },
  {
    letter: "E.", letterX: 578, letterY: 1099, x0: 669.5, x1: 973, y0: 1352, y1: 1118.5, axisY: 1353, yLabelDy: -3,
    blue: blueE, black: blackE, tickY: 1367, titleX: 820, titleY: 1395, yTitleX: 602, yTitleC: 1239,
    title: "Event-Free Survival - Time (months)",
    notes: [
      [789, 1134, ["Adjusted ", { t: "P", italic: true }, "-value 0.018"]],
      [789, 1159, [{ t: "P", italic: true }, "-value 0.0059493"]],
      [713, 1226, ["All patients except for cluster 5 (n=294)"]],
      [830, 1299, ["Cluster5 (n=50)"]]
    ]
  }
]

panels.forEach(p => {
  const g = svg.append("g")
  const x = d3.scaleLinear().domain([0, 100]).range([p.x0, p.x1])
  const y = d3.scaleLinear().domain([0, 1]).range([p.y0, p.y1])

  // minor ticks first, then the labelled axes on top
  const xMinor = g.append("g").attr("transform", `translate(0,${p.axisY})`)
    .call(d3.axisBottom(x).tickValues(d3.range(0, 101, 10)).tickSize(-3).tickFormat(""))
  const yMinor = g.append("g").attr("transform", `translate(${p.x0},0)`)
    .call(d3.axisLeft(y).tickValues(d3.range(0, 1.01, .1)).tickSize(-3).tickFormat(""))
  xMinor.selectAll("line").attr("stroke", "#bbb")
  yMinor.selectAll("line").attr("stroke", "#ccc")
  xMinor.select(".domain").attr("stroke", "#8a8a8a").attr("stroke-width", 1.4)
  yMinor.select(".domain").attr("stroke", "#8a8a8a").attr("stroke-width", 1.4)
  yMinor.select(".domain").attr("d", `M0,${p.axisY}V${p.y1}`)

  xTickLabels.forEach(t => label(g, x(t) + 2 + t * .05, p.tickY, String(t), 18, { anchor: "middle" }))
  yTickLabels.forEach(t => label(g, p.x0 - 8, y(t) + p.yLabelDy, String(t), 18, { anchor: "end" }))

  label(g, p.titleX, p.titleY, p.title, 17, { anchor: "middle" })
  label(g, 0, 0, "Cumulative proportion survival", 13.2, {
    anchor: "middle", transform: `translate(${p.yTitleX},${p.yTitleC}) rotate(-90)`
  })
  label(g, p.letterX, p.letterY, p.letter, 29, { fill: "#111" })

  const line = d3.line().x(d => x(d[0])).y(d => y(d[1]))
  g.append("path").datum(p.blue)
    .attr("d", line.curve(d3.curveLinear))
    .attr("fill", "none").attr("stroke", "#0a14e6").attr("stroke-width", 2.2)
  g.append("path").datum(p.black)
    .attr("d", line.curve(d3.curveStepAfter))
    .attr("fill", "none").attr("stroke", "#111").attr("stroke-width", 2.2)

  p.notes.forEach(n => label(g, n[0], n[1], n[2], 17))
})

// ---- scenario legend ----
const legendBarTop = [1002, 1045, 1090, 1134, 1178, 1222, 1267, 1316]
const legendLabelY = [1003, 1053, 1095, 1144, 1187, 1229, 1273, 1320]
const legendPinY = [987, 1030, 1073, 1119, 1163, 1207]
const legendArrows = [[1132, 1002, 978], [1132, 1022, 1045], [1132, 1134, 1111], [1132, 1154, 1178], [1131, 1267, 1242], [1132, 1290, 1316]]
const legend = svg.append("g")
defs.append("marker").attr("id", "tip").attr("viewBox", "0 0 8 8").attr("refX", 7).attr("refY", 4)
  .attr("markerWidth", 7).attr("markerHeight", 7).attr("orient", "auto")
  .append("path").attr("d", "M0,0L8,4L0,8Z").attr("fill", "#111")

legend.selectAll("rect.bar").data(scenarioNames).join("rect").attr("class", "bar")
  .attr("x", 1075.5).attr("width", 69.5)
  .attr("y", (d, i) => legendBarTop[i]).attr("height", 15.5)
  .attr("fill", (d, i) => scenarioColors[i])
scenarioNames.forEach((s, i) => label(legend, 1154, legendLabelY[i], s, 19))
legend.append("rect").attr("x", 1075).attr("y", 1351).attr("width", 69.5).attr("height", 15)
  .attr("fill", "#fff").attr("stroke", "#999").attr("stroke-width", 1.2)
label(legend, 1156, 1362, "No difference", 19)

legendPinY.forEach((py, i) => {
  const open = i > 2
  ;[1085.5, 1096.5, 1106.5].forEach(px => {
    legend.append("line").attr("x1", px).attr("x2", px).attr("y1", py).attr("y2", legendBarTop[i])
      .attr("stroke", "#777").attr("stroke-width", 1.3)
    legend.append("circle").attr("cx", px).attr("cy", py).attr("r", open ? 5 : 4.8)
      .attr("fill", open ? "#fff" : "#000").attr("stroke", open ? "#aaa" : "#000").attr("stroke-width", 1)
  })
})
legendArrows.forEach(a => {
  legend.append("line").attr("x1", a[0]).attr("x2", a[0]).attr("y1", a[1]).attr("y2", a[2])
    .attr("stroke", "#111").attr("stroke-width", 1.2).attr("marker-end", "url(#tip)")
})
</script>
</body>
</html>
